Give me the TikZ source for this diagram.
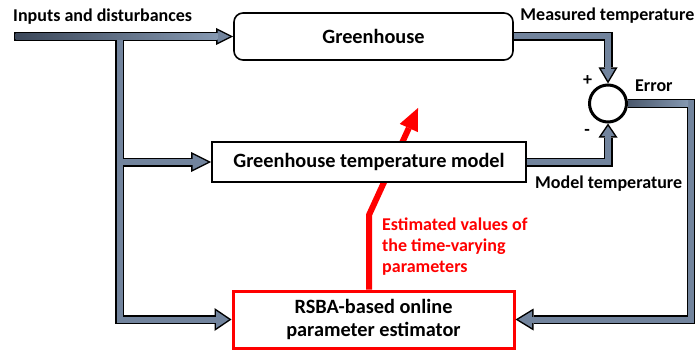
\documentclass[tikz,border=0pt]{standalone}
\usepackage{fontspec}
\setmainfont{Carlito}
\usetikzlibrary{arrows.meta,calc}
\definecolor{slate}{HTML}{72849D}
\definecolor{slatedark}{HTML}{3C485A}
\definecolor{slatelight}{HTML}{8598B1}
\definecolor{errdark}{HTML}{4B596D}
\begin{document}
\begin{tikzpicture}[x=1pt,y=-1pt, line join=miter,
  outl/.style={line width=9pt, color=black},
  inl/.style={line width=6pt, color=slate},
  lbl/.style={font=\fontsize{18}{21}\selectfont\bfseries, inner sep=0pt},
  boxtxt/.style={font=\fontsize{20.3}{23}\selectfont\bfseries, align=center, inner sep=0pt}]
\useasboundingbox (0,0) rectangle (695,350);
% boxes
\node[boxtxt, draw=red, line width=3pt, fill=white, minimum width=281pt, minimum height=57pt] (est) at (373.5,319.5) {RSBA-based online\\parameter estimator};
\coordinate (rbend) at (369,215);
\coordinate (rtip) at (418,108);
\draw[red, line width=6pt, -{Triangle[length=22pt,width=20pt,line width=0pt]}] (est.north -| rbend) -- (rbend) -- (rtip);
\node[boxtxt, draw, line width=1.6pt, fill=white, minimum width=314pt, minimum height=40pt] (model) at (369,162) {Greenhouse temperature model};
\node[boxtxt, draw, line width=1.6pt, rounded corners=9pt, fill=white, minimum width=279pt, minimum height=47pt] (gh) at (373.5,36.5) {Greenhouse};
\node[circle, draw, line width=3pt, fill=white, minimum size=37pt, inner sep=0pt] (sum) at (608,103.5) {};
% coordinates
\coordinate (inp) at (14,36.5);
\coordinate (brx) at (119.5,36.5);
\coordinate (ex) at (691,103.5);
% outlines
\draw[outl, -{Triangle[length=17pt,width=17pt,line width=0pt]}] (inp) -- (inp -| gh.west);
\draw[outl, -{Triangle[length=17pt,width=23pt,line width=0pt]}] (brx) |- (est.west);
\draw[outl, -{Triangle[length=20pt,width=20pt,line width=0pt]}] (brx |- model.west) -- (model.west);
\draw[outl, -{Triangle[length=16pt,width=19pt,line width=0pt]}] (gh.east) -| (sum.north);
\draw[outl, -{Triangle[length=14pt,width=19pt,line width=0pt]}] (model.east) -| (sum.south);
\draw[outl, -{Triangle[length=18pt,width=22pt,line width=0pt]}] (sum.east) -- (ex) |- (est.east);
% fills
\draw[inl, shorten >=3.35pt, -{Triangle[length=12.15pt,width=12.15pt,line width=0pt]}] ($(inp)+(1.5,0)$) -- (inp -| gh.west);
\draw[inl, shorten >=2.68pt, -{Triangle[length=12.82pt,width=17.34pt,line width=0pt]}] (brx) |- (est.west);
\draw[inl, shorten >=3.35pt, -{Triangle[length=15.15pt,width=15.15pt,line width=0pt]}] (brx |- model.west) -- (model.west);
\draw[inl, shorten >=2.94pt, -{Triangle[length=11.56pt,width=13.73pt,line width=0pt]}] (gh.east) -| (sum.north);
\draw[inl, shorten >=2.67pt, -{Triangle[length=9.83pt,width=13.34pt,line width=0pt]}] (model.east) -| (sum.south);
\draw[inl, shorten >=2.88pt, -{Triangle[length=13.62pt,width=16.65pt,line width=0pt]}] (sum.east) -- (ex) |- (est.east);
% gradients
\shade[left color=slatedark, right color=slatelight] ($(inp)+(1.5,-3)$) rectangle ($(inp -| gh.west)+(-15.6,3)$);
\shade[left color=errdark, right color=slatelight] ($(sum.east)+(0,-3)$) rectangle ($(ex)+(-3,3)$);
% labels
\node[lbl, anchor=base west] (linp) at (13,22) {Inputs and disturbances};
\node[lbl, anchor=base east] (lmeas) at (694.5,21) {Measured temperature};
\node[lbl, anchor=base west] (lerr) at (635,92) {Error};
\node[lbl, anchor=base west] (lmod) at (535,188.5) {Model temperature};
\node[lbl] (lplus) at (587.5,80.5) {+};
\node[lbl] (lminus) at (587,132) {-};
\node[lbl, text=red, align=left, anchor=north west] (lest) at (382,218) {Estimated values of\\the time-varying\\parameters};
\end{tikzpicture}
\end{document}
